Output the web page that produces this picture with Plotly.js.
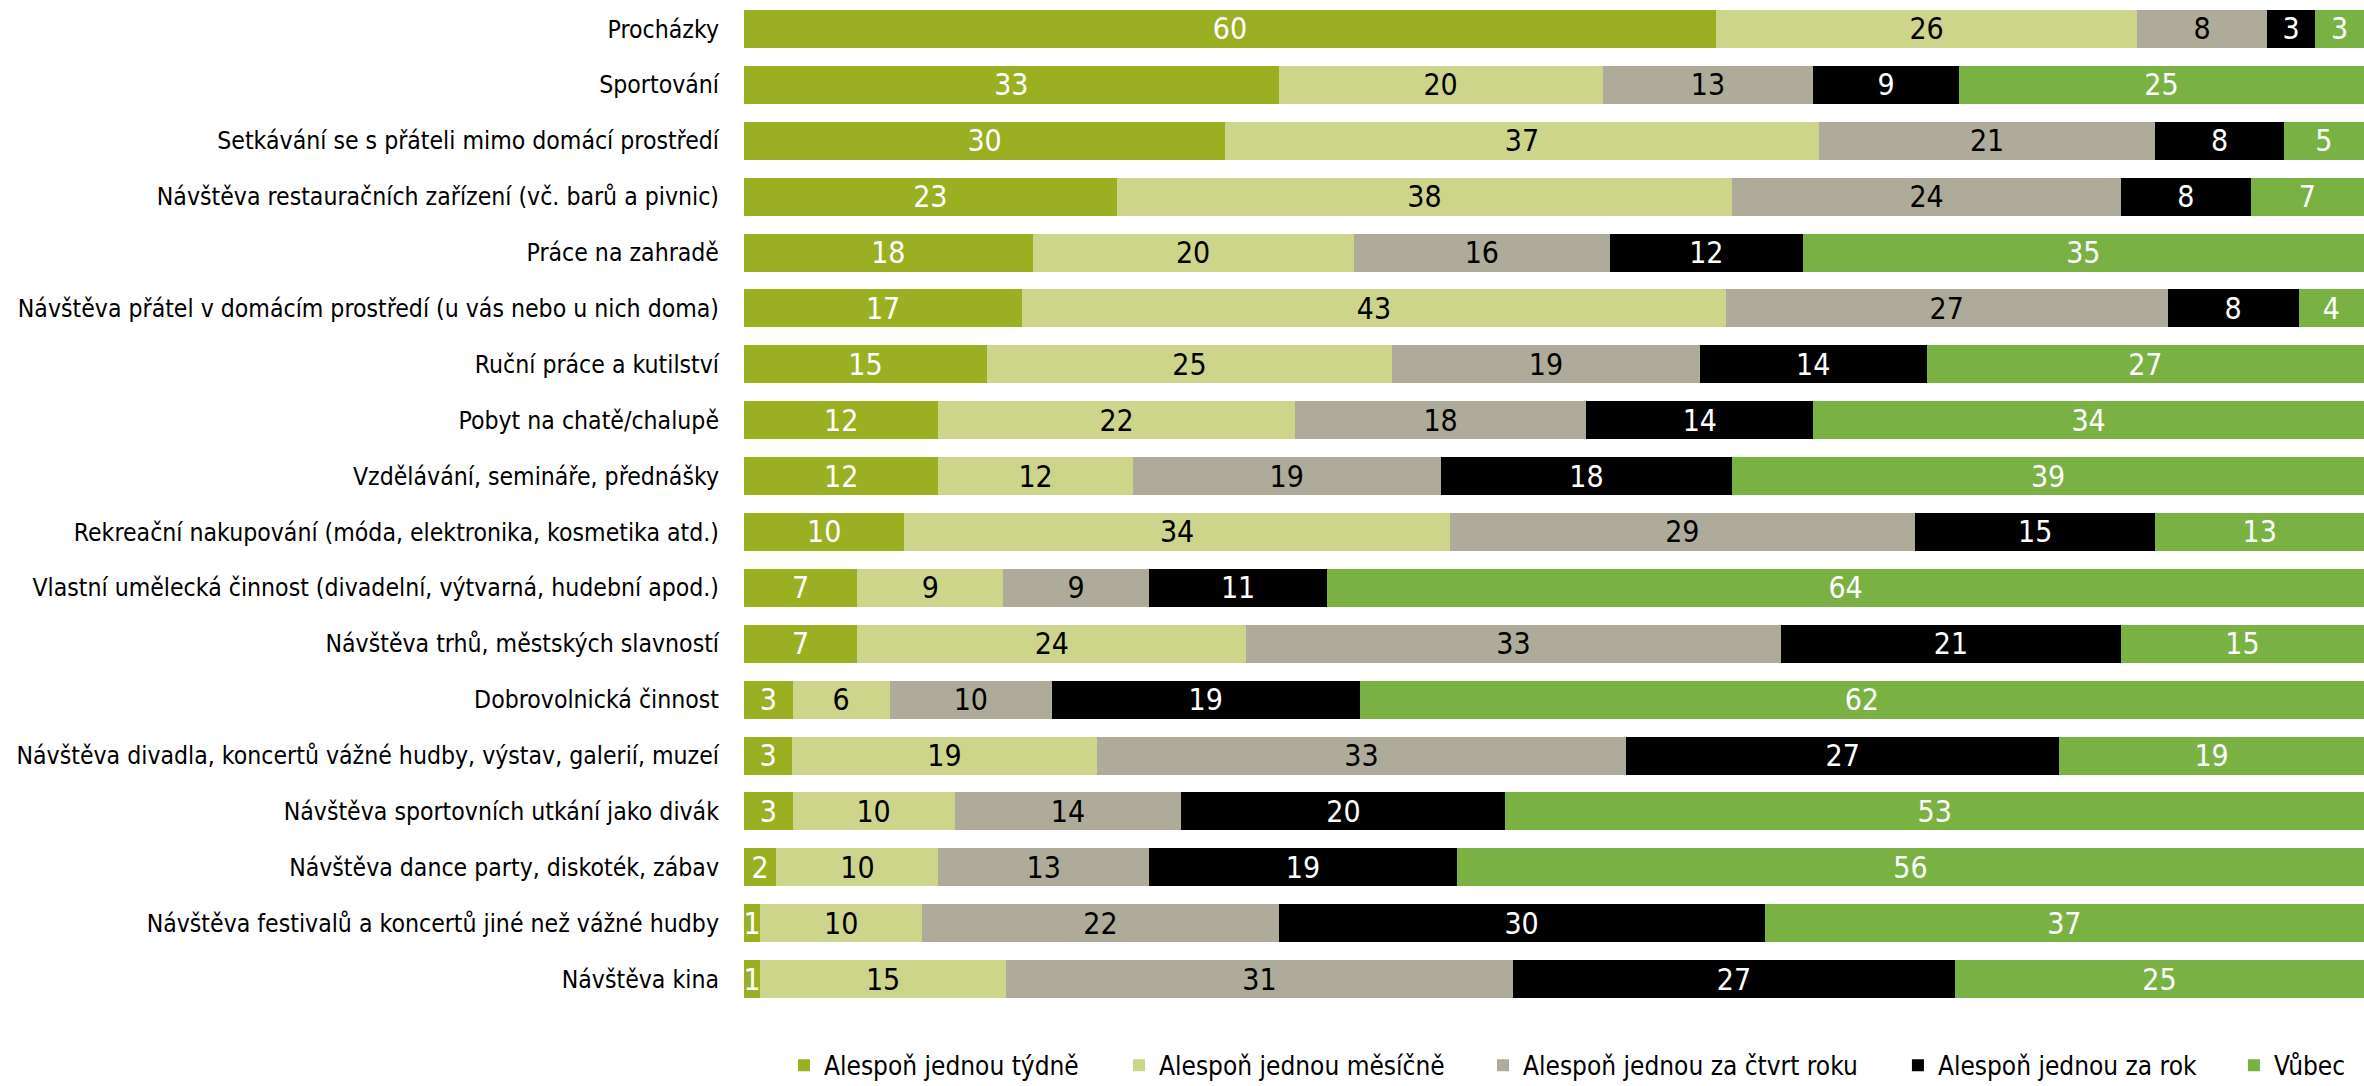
<!DOCTYPE html>
<html>
<head>
<meta charset="utf-8">
<script src="https://cdn.plot.ly/plotly-3.0.1.min.js"></script>
<style>html,body{margin:0;padding:0;background:#fff;}#chart{width:2364px;height:1086px;}</style>
</head>
<body>
<div id="chart"></div>
<script>
const categories = [
  "Procházky",
  "Sportování",
  "Setkávání se s přáteli mimo domácí prostředí",
  "Návštěva restauračních zařízení (vč. barů a pivnic)",
  "Práce na zahradě",
  "Návštěva přátel v domácím prostředí (u vás nebo u nich doma)",
  "Ruční práce a kutilství",
  "Pobyt na chatě/chalupě",
  "Vzdělávání, semináře, přednášky",
  "Rekreační nakupování (móda, elektronika, kosmetika atd.)",
  "Vlastní umělecká činnost (divadelní, výtvarná, hudební apod.)",
  "Návštěva trhů, městských slavností",
  "Dobrovolnická činnost",
  "Návštěva divadla, koncertů vážné hudby, výstav, galerií, muzeí",
  "Návštěva sportovních utkání jako divák",
  "Návštěva dance party, diskoték, zábav",
  "Návštěva festivalů a koncertů jiné než vážné hudby",
  "Návštěva kina"
];
const seriesNames = ["Alespoň jednou týdně", "Alespoň jednou měsíčně", "Alespoň jednou za čtvrt roku", "Alespoň jednou za rok", "Vůbec"];
const weekly    = [60, 33, 30, 23, 18, 17, 15, 12, 12, 10, 7, 7, 3, 3, 3, 2, 1, 1];
const monthly   = [26, 20, 37, 38, 20, 43, 25, 22, 12, 34, 9, 24, 6, 19, 10, 10, 10, 15];
const quarterly = [8, 13, 21, 24, 16, 27, 19, 18, 19, 29, 9, 33, 10, 33, 14, 13, 22, 31];
const yearly    = [3, 9, 8, 8, 12, 8, 14, 14, 18, 15, 11, 21, 19, 27, 20, 19, 30, 27];
const never     = [3, 25, 5, 7, 35, 4, 27, 34, 39, 13, 64, 15, 62, 19, 53, 56, 37, 25];

const seriesValues = [weekly, monthly, quarterly, yearly, never];
const colors = ["#9baf23", "#cdd58b", "#afab9a", "#000000", "#79b143"];
const textColors = ["#ffffff", "#000000", "#000000", "#ffffff", "#ffffff"];
const FONT = "'Liberation Sans Narrow', 'DejaVu Sans Condensed', 'Roboto Condensed', sans-serif";
const legendIds = ["legend", "legend2", "legend3", "legend4", "legend5"];
const legendX = [0.0247, 0.2315, 0.4562, 0.7123, 0.9197];

const traces = seriesValues.map((vals, i) => ({
  type: "bar",
  orientation: "h",
  name: seriesNames[i],
  legend: legendIds[i],
  y: categories,
  x: vals,
  text: vals.map(String),
  texttemplate: "%{text}",
  textposition: "inside",
  insidetextanchor: "middle",
  textangle: 0,
  constraintext: "none",
  textfont: {family: FONT, size: 30, color: textColors[i]},
  marker: {color: colors[i], line: {width: 0}},
  hoverinfo: "none"
}));

const layout = {
  width: 2364,
  height: 1086,
  barmode: "stack",
  barnorm: "percent",
  bargap: 0.32,
  margin: {l: 744, r: 0, t: 1, b: 79, autoexpand: false},
  paper_bgcolor: "#ffffff",
  plot_bgcolor: "#ffffff",
  font: {family: FONT, size: 24, color: "#000000"},
  xaxis: {range: [0, 100], showticklabels: false, showgrid: false, zeroline: false, showline: false, ticks: "", fixedrange: true},
  yaxis: {autorange: "reversed", showgrid: false, zeroline: false, showline: false, ticks: "", ticklabelstandoff: 24, tickfont: {family: FONT, size: 24.6, color: "#000000"}, fixedrange: true},
  showlegend: true
};
legendIds.forEach((id, i) => {
  layout[id] = {orientation: "h", x: legendX[i], xanchor: "left", y: -0.058, yanchor: "middle",
    font: {family: FONT, size: 26, color: "#000000"}, itemwidth: 30, bgcolor: "rgba(0,0,0,0)"};
});

Plotly.newPlot("chart", traces, layout, {displayModeBar: false, staticPlot: true});
</script>
</body>
</html>
